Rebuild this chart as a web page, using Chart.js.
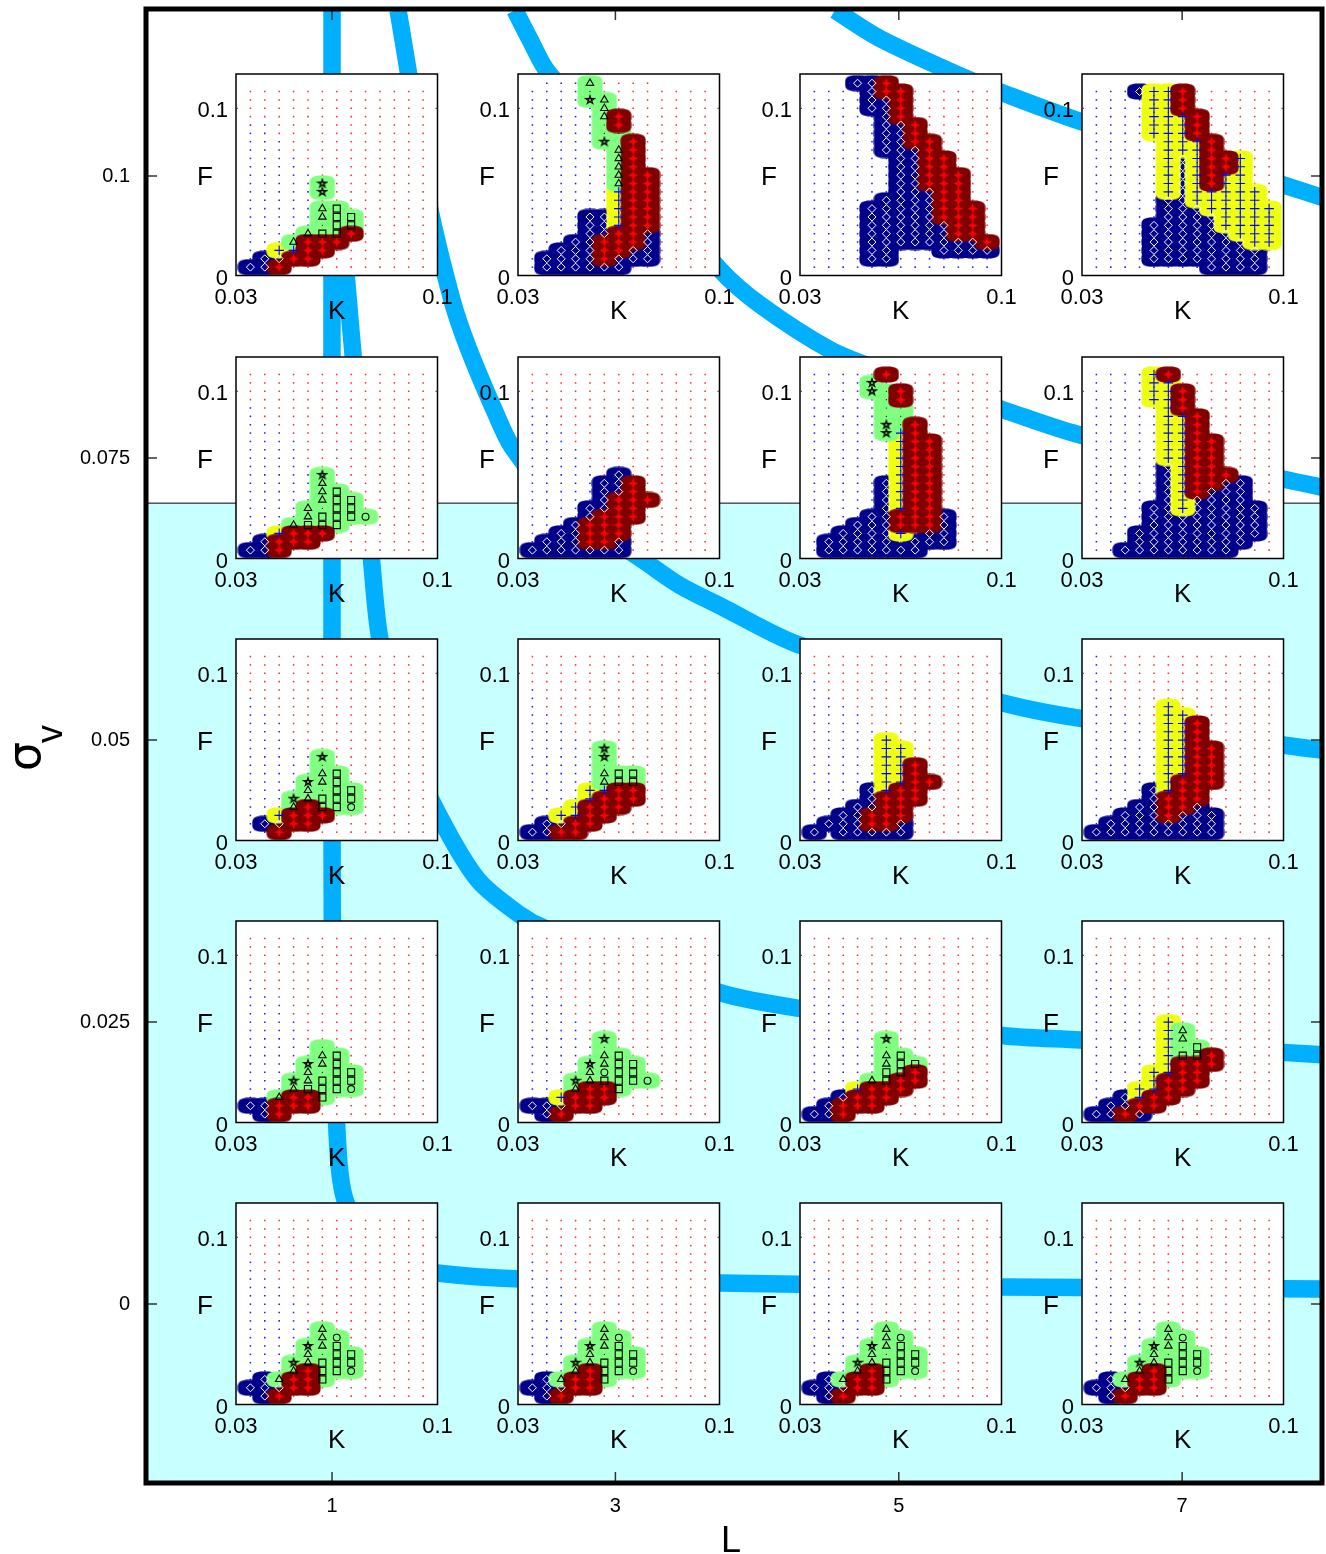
<!DOCTYPE html>
<html>
<head>
<meta charset="utf-8">
<title>Pattern regions over L and sigma v</title>
<script src="https://cdn.jsdelivr.net/npm/chart.js@4/dist/chart.umd.js"></script>
<style>
    html, body { margin: 0; padding: 0; background: #fff; }
    #page { position: relative; width: 1326px; height: 1554px; overflow: hidden; }
    #page canvas { position: absolute; }
</style>
</head>
<body>
<div id="page"><canvas id="outer" width="1326" height="1554" style="left:0;top:0"></canvas></div>
<script>
// ----- DATA -----

// Inset grid
const kValues = [0.035, 0.04, 0.045, 0.05, 0.055, 0.06, 0.065, 0.07, 0.075, 0.08, 0.085, 0.09, 0.095];
const fValues = [0.005, 0.01, 0.015, 0.02, 0.025, 0.03, 0.035, 0.04, 0.045, 0.05, 0.055, 0.06,
    0.065, 0.07, 0.075, 0.08, 0.085, 0.09, 0.095, 0.1, 0.105, 0.11, 0.115];

// Outer axes
const lTicks = [1, 3, 5, 7];
const sigmaTicks = [0, 0.025, 0.05, 0.075, 0.1];
const sigmaTickLabels = ['0', '0.025', '0.05', '0.075', '0.1'];
const cyanBelowSigma = 0.071;

// Thick blue curves
const curve1L = [1, 1, 1.007, 1.042, 1.092, 1.268, 1.48, 1.741, 2.327, 3.738, 5.714, 7.99];
const curve1S = [0.1147, 0.0447, 0.02695, 0.01365, 0.00922, 0.00479, 0.00346, 0.00275, 0.00222, 0.00186, 0.00151, 0.00133];
const curve2L = [1, 1.056, 1.127, 1.282, 1.339, 1.515, 1.755, 2.03, 2.327, 2.503, 3.738, 4.303, 5.728, 6.279, 7.99];
const curve2S = [0.1067, 0.0979, 0.0872, 0.0655, 0.0589, 0.05, 0.0433, 0.0376, 0.0345, 0.0333, 0.0276, 0.0262, 0.0238, 0.0234, 0.0221];
const curve3L = [1.466, 1.536, 1.677, 1.847, 1.96, 2.157, 2.27, 2.609, 3.032, 3.188, 3.456, 3.738, 4.303, 5.728, 6.293, 7.99];
const curve3S = [0.1147, 0.1094, 0.0979, 0.089, 0.0848, 0.0789, 0.076, 0.0708, 0.0673, 0.066, 0.0637, 0.0619, 0.0584, 0.0533, 0.0519, 0.0491];
const curve4L = [2.291, 2.397, 2.524, 3.738, 4.02, 4.514, 4.867, 5.728, 6.293, 7.99];
const curve4S = [0.1147, 0.1121, 0.1092, 0.0917, 0.0886, 0.0846, 0.0828, 0.0793, 0.077, 0.0724];
const curve5L = [4.55, 4.867, 5.432, 5.728, 6.293, 7.719, 7.99];
const curve5S = [0.1147, 0.1122, 0.1089, 0.1074, 0.1048, 0.0992, 0.0981];

// Marks per inset, last line is F = 0.005. Columns follow kValues.
// D diamond, P plus, R red, T triangle, Q square, O circle, A star, k black dot, b/r plain dots
const marks_s100_l1 = [
    '.....A.......', '.....A.......', '.............', '.....TQ......', '.....TQQ.....', '.....kQQ.....',
    '....TQQR.....', '...TRRR......', '..PPRR.......', '.DDRR........', 'DDR..........'
];
const marks_s100_l3 = [
    '.bbbTrrrr....', '....k........', '....AT.......', '.....T.......', '.....TR......', '.....kR......',
    '.....kk......', '.....A.R.....', '......TR.....', '......TR.....', '......TR.....', '......TRR....',
    '......TRR....', '......PRR....', '......PRR....', '......PRR....', '....DDPRR....', '....DDPRR....',
    '....DDRRD....', '...DDRRRD....', '..DDDRRDD....', '.DDDDRDDD....', '.DDDDDD......'
];
const marks_s100_l5 = [
    '...DDR.......', '....DRR......', '....DDR......', '....DDR......', '.....DR......', '.....DDR.....',
    '.....DDR.....', '.....DDRR....', '.....DDDR....', '......DDRR...', '......DDRR...', '......DDRRR..',
    '......DDRRR..', '......DDDRR..', '.....DDDDRR..', '....DDDDDRRR.', '....DDDDDRRR.', '....DDDDDDRR.',
    '....DDDDDDRR.', '....DDDDDDDDR', '....DD...DDDD', '....DD.......', '.............'
];
const marks_s100_l7 = [
    '...DPPR......', '....PPR......', '....PPR......', '....PPPR.....', '....PPPR.....', '....PPPR.....',
    '.....PPPR....', '.....PPPR....', '.....PDPRRP..', '.....PDPRRP..', '.....PDPRPP..', '.....PDPRPP..',
    '.....PDPPPPP.', '.....DDPPPPP.', '.....DDDPPPPP', '.....DDDDPPPP', '....DDDDDPPPP', '....DDDDDDPPP',
    '....DDDDDDDPP', '....DDDDDDDD.', '....DDDDDDDD.', '........DDDD.'
];
const marks_s075_l1 = [
    '.....A.......', '.....T.......', '.....TQ......', '.....TQQ.....', '....TkQQ.....', '....TQQQO....',
    '...TQQQ......', '..PRRR.......', '.DRRR........', 'DDR..........'
];
const marks_s075_l3 = [
    '......D......', '.....DDR.....', '.....DDR.....', '.....DRRR....', '....DDRR.....', '....DRRR.....',
    '...DRRR......', '..DDRRR......', '.DDDRRD......', 'DDDDDDD......'
];
const marks_s075_l5 = [
    '.....R.......', '....A........', '....AkR......', '.....kR......', '.....kk......', '.....kk......',
    '.....AkR.....', '.....APR.....', '......PRR....', '......PRR....', '......PRR....', '......PRR....',
    '......PRR....', '.....DPRR....', '.....DPRR....', '.....DPRR....', '.....DPRR....', '....DDRRRD...',
    '...DDDRRRD...', '..DDDDP.DD...', '.DDDDD.DDD...', '.DDDDDDD.....'
];
const marks_s075_l7 = [
    '....PR.......', '....PP.......', '....PPR......', '....PPR......', '.....PR......', '.....PPR.....',
    '.....PPR.....', '.....PPR.....', '.....PPRR....', '.....PPRR....', '.....PPRR....', '.....DPRR....',
    '.....DPRRR...', '.....DPRRDD..', '.....DPRDDD..', '.....DPDDDD..', '....DDPDDDDD.', '....DDDDDDDD.',
    '....DDDDDDDD.', '...DDDDDDDDD.', '...DDDDDDDD..', '..DDDDDDDD...'
];
const marks_s050_l1 = [
    '.....A.......', '.....k.......', '.....TQ......', '....ATQ......', '....TkQQ.....', '...ATQQQ.....',
    '...TRQQO.....', '..PRRR.......', '.DDRR........', '..R..........'
];
const marks_s050_l3 = [
    '.....A.......', '.....A.......', '.....k.......', '.....TQQ.....', '.....TQQ.....', '....PPRR.....',
    '....PRRR.....', '...PRRR......', '..PPRR.......', '.DDRR........', 'DDRR.........'
];
const marks_s050_l5 = [
    '.....P.......', '.....PP......', '.....PP......', '.....PPR.....', '.....PPR.....', '.....PPRR....',
    '....DPRR.....', '....DRRR.....', '...DDRR......', '..DDRRR......', '.DDDRRD......', 'D.DDDDD......'
];
const marks_s050_l7 = [
    '.....P.......', '.....PP......', '.....PPR.....', '.....PPR.....', '.....PPR.....', '.....PPRR....',
    '.....PPRR....', '.....PPRR....', '.....PPRR....', '.....PRRR....', '....DPRR.....', '....DRRR.....',
    '...DDRRD.....', '..DDDRDDD....', '.DDDDDDDD....', 'DDDDDDDDD....'
];
const marks_s025_l1 = [
    '.....k.......', '.....TQ......', '....ATQ......', '....TkQQ.....', '...ATQQQ.....', '...TQQQO.....',
    '..TRRQ.......', 'DDRRR........', '.DR..........'
];
const marks_s025_l3 = [
    '.....A.......', '.....k.......', '.....TQ......', '....ATQQ.....', '....TOQQ.....', '...ATQQQO....',
    '...TRRQ......', '..PRRR.......', 'DDDRR........', '.DR..........'
];
const marks_s025_l5 = [
    '.....A.......', '.....k.......', '.....TQ......', '.....TQQ.....', '.....QQR.....', '....TQRR.....',
    '...PRRR......', '..DRRR.......', '.DRRR........', 'DDR..........'
];
const marks_s025_l7 = [
    '.....P.......', '.....PT......', '.....PT......', '.....PkQ.....', '.....PQQR....', '.....PRRR....',
    '....PPRR.....', '....PRRR.....', '...PPRR......', '..DPRR.......', '.DDRR........', 'DDRD.........'
];
const marks_s000_l1 = [
    '.....T.......', '.....TO......', '....ATQ......', '....TkQQ.....', '...ATQQQ.....', '...TRQQO.....',
    '.DTRRQ.......', 'DDDRR........', '.DR..........'
];
const marks_s000_l3 = marks_s000_l1.slice();
const marks_s000_l5 = marks_s000_l1.slice();
const marks_s000_l7 = marks_s000_l1.slice();

// Number of blue dots from the left on each F row, from F = 0.11 down to F = 0.005
const blue_s100_l1 = [0,0,0,0,2,2,3,3,4,4,5,5,5,5,5,5,5,5,4,4,3,3];
const blue_s100_l3 = [5,5,5,5,5,5,5,5,5,5,5,5,5,5,5,5,5,5,5,5,5,5];
const blue_s100_l5 = [7,7,7,7,7,7,7,7,7,7,7,7,7,7,7,7,7,7,7,13,13,13];
const blue_s100_l7 = [7,7,7,8,8,8,8,8,8,8,8,8,8,8,8,8,8,8,8,8,8,8];
const blue_s075_l1 = [0,0,0,0,1,1,2,3,4,4,4,5,5,5,5,5,5,5,4,4,3,3];
const blue_s075_l3 = [0,0,0,1,1,2,2,3,3,4,4,5,5,5,5,5,5,5,5,5,7,7];
const blue_s075_l5 = [6,6,6,6,6,6,6,6,6,6,6,6,6,6,6,6,6,6,6,6,6,6];
const blue_s075_l7 = [6,6,6,6,6,6,6,6,6,6,6,6,6,6,6,6,6,6,6,6,6,10];
const blue_s050_l1 = [0,0,0,0,0,1,1,2,3,3,4,4,5,5,5,5,5,5,4,3,3,2];
const blue_s050_l3 = [0,0,0,0,1,1,1,2,3,3,4,4,5,5,5,5,5,5,4,4,3,3];
const blue_s050_l5 = [0,0,0,1,1,2,3,4,4,5,5,5,5,5,5,5,5,5,5,5,5,5];
const blue_s050_l7 = [1,1,1,1,2,2,2,3,4,4,4,5,5,5,5,5,5,5,5,5,5,5];
const blue_s025_l1 = [0,0,0,0,0,1,1,2,3,3,4,4,4,5,5,5,5,5,4,3,3,3];
const blue_s025_l3 = [0,0,0,0,1,1,1,2,3,3,4,4,4,5,5,5,5,5,4,3,3,3];
const blue_s025_l5 = [0,0,0,0,0,0,2,2,3,3,4,4,4,5,5,5,5,5,4,4,3,3];
const blue_s025_l7 = [0,0,0,1,1,2,3,3,4,4,4,5,5,5,5,5,5,5,5,5,5,5];
const blue_s000_l1 = [0,0,0,0,0,1,1,2,3,3,4,4,4,5,5,5,5,5,4,3,3,2];
const blue_s000_l3 = blue_s000_l1.slice();
const blue_s000_l5 = blue_s000_l1.slice();
const blue_s000_l7 = blue_s000_l1.slice();

// Top to bottom, left to right
const panelMarks = [
    [marks_s100_l1, marks_s100_l3, marks_s100_l5, marks_s100_l7],
    [marks_s075_l1, marks_s075_l3, marks_s075_l5, marks_s075_l7],
    [marks_s050_l1, marks_s050_l3, marks_s050_l5, marks_s050_l7],
    [marks_s025_l1, marks_s025_l3, marks_s025_l5, marks_s025_l7],
    [marks_s000_l1, marks_s000_l3, marks_s000_l5, marks_s000_l7]
];
const panelBlue = [
    [blue_s100_l1, blue_s100_l3, blue_s100_l5, blue_s100_l7],
    [blue_s075_l1, blue_s075_l3, blue_s075_l5, blue_s075_l7],
    [blue_s050_l1, blue_s050_l3, blue_s050_l5, blue_s050_l7],
    [blue_s025_l1, blue_s025_l3, blue_s025_l5, blue_s025_l7],
    [blue_s000_l1, blue_s000_l3, blue_s000_l5, blue_s000_l7]
];

// ----- LAYOUT AND STYLES -----

const fontFamily = '"Liberation Sans", Arimo, Helvetica, sans-serif';
Chart.defaults.font.family = fontFamily;
Chart.defaults.color = '#000';
Chart.defaults.animation = false;
Chart.defaults.plugins.legend.display = false;
Chart.defaults.plugins.tooltip.enabled = false;

const panelLeft = [236, 518, 800, 1082];
const panelTop = [74, 357, 639, 921, 1203];
const panelSize = 201.5;
const curveBlue = '#00b0ff';

/**
 * Rounded box used as point style for the coloured regions
 */
function makeBlob(color) {
    const blob = document.createElement('canvas');
    blob.width = 26;
    blob.height = 17;
    const ctx = blob.getContext('2d');
    ctx.fillStyle = color;
    ctx.beginPath();
    for (let i = 0; i < 64; i++) {
        const angle = i / 64 * Math.PI * 2;
        const c = Math.cos(angle);
        const s = Math.sin(angle);
        const x = 13 + 12.6 * Math.sign(c) * Math.pow(Math.abs(c), 2 / 3);
        const y = 8.5 + 8 * Math.sign(s) * Math.pow(Math.abs(s), 2 / 3);
        if (i === 0) ctx.moveTo(x, y); else ctx.lineTo(x, y);
    }
    ctx.closePath();
    ctx.fill();
    return blob;
}

/**
 * Hollow five pointed star, the library only has an eight line one
 */
function makeStar() {
    const star = document.createElement('canvas');
    star.width = 12;
    star.height = 12;
    const ctx = star.getContext('2d');
    ctx.strokeStyle = '#000';
    ctx.lineWidth = 1.1;
    ctx.beginPath();
    for (let i = 0; i < 5; i++) {
        const angle = -Math.PI / 2 + i * 4 * Math.PI / 5;
        const x = 6 + 4.8 * Math.cos(angle);
        const y = 6 + 4.4 * Math.sin(angle);
        if (i === 0) ctx.moveTo(x, y); else ctx.lineTo(x, y);
    }
    ctx.closePath();
    ctx.stroke();
    return star;
}

/**
 * Fat red four pointed mark
 */
function makeRedMark() {
    const mark = document.createElement('canvas');
    mark.width = 11;
    mark.height = 11;
    const ctx = mark.getContext('2d');
    ctx.fillStyle = '#ff0000';
    ctx.beginPath();
    ctx.moveTo(5.5, 0.5);
    ctx.lineTo(6.9, 4.1);
    ctx.lineTo(10.5, 5.5);
    ctx.lineTo(6.9, 6.9);
    ctx.lineTo(5.5, 10.5);
    ctx.lineTo(4.1, 6.9);
    ctx.lineTo(0.5, 5.5);
    ctx.lineTo(4.1, 4.1);
    ctx.closePath();
    ctx.fill();
    return mark;
}

const blobStyles = {
    blue: makeBlob('#00008b'),
    yellow: makeBlob('#eeff10'),
    green: makeBlob('#80ff80'),
    red: makeBlob('#800000')
};

// Which region every mark sits on
const blobOfMark = { D: 'blue', P: 'yellow', R: 'red', T: 'green', Q: 'green', O: 'green', A: 'green', k: 'green' };

// Point options per mark, in drawing order
const markStyles = {
    D: { pointStyle: 'rectRot', pointRadius: 4, pointBorderColor: '#fff', pointBorderWidth: 1, pointBackgroundColor: 'transparent' },
    P: { pointStyle: 'cross', pointRadius: 4.8, pointBorderColor: '#0000ff', pointBorderWidth: 1.1 },
    R: { pointStyle: makeRedMark(), pointRadius: 4, pointBorderWidth: 0 },
    T: { pointStyle: 'triangle', pointRadius: 4.3, pointBorderColor: '#000', pointBorderWidth: 1.1, pointBackgroundColor: 'transparent' },
    Q: { pointStyle: 'rect', pointRadius: 5, pointBorderColor: '#000', pointBorderWidth: 1.1, pointBackgroundColor: 'transparent' },
    O: { pointStyle: 'circle', pointRadius: 3.4, pointBorderColor: '#000', pointBorderWidth: 1.1, pointBackgroundColor: 'transparent' },
    A: { pointStyle: makeStar(), pointRadius: 4, pointBorderWidth: 0 },
    k: { pointStyle: 'circle', pointRadius: 0.6, pointBorderWidth: 0, pointBackgroundColor: '#000' }
};

/**
 * Keeps the plot area where it was set, the library would move it for the tick labels
 */
function fixScaleSize(scale, width, height) {
    if (width !== null) scale.width = width;
    if (height !== null) scale.height = height;
    scale.paddingTop = 0;
    scale.paddingBottom = 0;
    scale.paddingLeft = 0;
    scale.paddingRight = 0;
}

// ----- INSET CHARTS -----

const insetFrame = {
    id: 'insetFrame',
    beforeDraw(chart) {
        const { ctx, chartArea: a } = chart;
        ctx.save();
        ctx.fillStyle = '#fff';
        ctx.fillRect(a.left, a.top, a.width, a.height);
        ctx.restore();
    },
    afterDraw(chart) {
        const { ctx, chartArea: a, scales } = chart;
        const tickY = scales.y.getPixelForValue(0.1);
        ctx.save();
        ctx.strokeStyle = '#000';
        ctx.lineWidth = 1.5;
        ctx.strokeRect(a.left, a.top, a.width, a.height);
        ctx.strokeStyle = '#333';
        ctx.lineWidth = 1;
        ctx.beginPath();
        ctx.moveTo(a.left, tickY);
        ctx.lineTo(a.left + 2, tickY);
        ctx.moveTo(a.right - 2, tickY);
        ctx.lineTo(a.right, tickY);
        ctx.stroke();
        ctx.fillStyle = '#000';
        ctx.font = '26px ' + fontFamily;
        ctx.textAlign = 'center';
        ctx.textBaseline = 'middle';
        ctx.fillText('F', a.left - 31, (a.top + a.bottom) / 2 + 3);
        ctx.fillText('K', (a.left + a.right) / 2, a.bottom + 36);
        ctx.restore();
    }
};

/**
 * Turns the rows of one inset into scatter datasets
 */
function buildInsetDatasets(marks, blue) {
    const blueDots = [];
    const redDots = [];
    const blobs = { blue: [], yellow: [], green: [], red: [] };
    const symbols = { D: [], P: [], R: [], T: [], Q: [], O: [], A: [], k: [] };

    for (let f = fValues.length - 1; f >= 0; f--) {
        const row = marks[marks.length - 1 - f] || '.............';
        kValues.forEach((k, c) => {
            const ch = row[c];
            const point = { x: k, y: fValues[f] };
            if (ch === 'b') {
                blueDots.push(point);
            } else if (ch === 'r') {
                redDots.push(point);
            } else if (ch === '.') {
                // the default dots stop at F = 0.11
                if (f < blue.length) {
                    (c < blue[blue.length - 1 - f] ? blueDots : redDots).push(point);
                }
            } else {
                blobs[blobOfMark[ch]].push(point);
                symbols[ch].push(point);
            }
        });
    }

    const datasets = [
        { data: blueDots, pointStyle: 'rect', pointRadius: 1.1, pointBorderWidth: 0, pointBackgroundColor: '#2020ff' },
        { data: redDots, pointStyle: 'rect', pointRadius: 1.1, pointBorderWidth: 0, pointBackgroundColor: '#ff3030' }
    ];
    ['blue', 'yellow', 'green', 'red'].forEach(name => {
        datasets.push({ data: blobs[name], pointStyle: blobStyles[name], pointRadius: 5, pointBorderWidth: 0 });
    });
    Object.keys(markStyles).forEach(ch => {
        datasets.push(Object.assign({ data: symbols[ch] }, markStyles[ch]));
    });
    // the library draws the lowest order last, so the list order gives the stacking
    datasets.forEach((d, i) => {
        d.order = datasets.length - i;
        d.clip = false;
        d.pointHoverRadius = d.pointRadius;
    });
    return datasets;
}

function createInset(rowIndex, colIndex) {
    const canvas = document.createElement('canvas');
    canvas.width = 280;
    canvas.height = 272;
    canvas.style.left = (panelLeft[colIndex] - 50) + 'px';
    canvas.style.top = (panelTop[rowIndex] - 10) + 'px';
    document.getElementById('page').appendChild(canvas);

    return new Chart(canvas, {
        type: 'scatter',
        data: { datasets: buildInsetDatasets(panelMarks[rowIndex][colIndex], panelBlue[rowIndex][colIndex]) },
        plugins: [insetFrame],
        options: {
            responsive: false,
            layout: { padding: { left: 0, right: canvas.width - 50 - panelSize, top: 10, bottom: 0 } },
            scales: {
                x: {
                    type: 'linear', min: 0.03, max: 0.1,
                    grid: { display: false, drawTicks: false }, border: { display: false },
                    afterFit(scale) { fixScaleSize(scale, null, 60.5); },
                    afterBuildTicks(scale) { scale.ticks = [{ value: 0.03 }, { value: 0.1 }]; },
                    ticks: { font: { size: 22 }, padding: 9, maxRotation: 0, autoSkip: false, color: '#000', callback: v => String(v) }
                },
                y: {
                    type: 'linear', min: 0, max: 0.1205,
                    grid: { display: false, drawTicks: false }, border: { display: false },
                    afterFit(scale) { fixScaleSize(scale, 50, null); },
                    afterBuildTicks(scale) { scale.ticks = [{ value: 0 }, { value: 0.1 }]; },
                    ticks: { font: { size: 22 }, padding: 8, labelOffset: 3, autoSkip: false, color: '#000', callback: v => String(v) }
                }
            }
        }
    });
}

// ----- OUTER CHART -----

const outerFrame = {
    id: 'outerFrame',
    afterDatasetsDraw(chart) {
        const { ctx, chartArea: a, scales } = chart;
        ctx.save();
        ctx.strokeStyle = '#333';
        ctx.lineWidth = 1.5;
        ctx.beginPath();
        lTicks.forEach(v => {
            const x = scales.x.getPixelForValue(v);
            ctx.moveTo(x, a.top);
            ctx.lineTo(x, a.top + 11);
            ctx.moveTo(x, a.bottom);
            ctx.lineTo(x, a.bottom - 11);
        });
        sigmaTicks.forEach(v => {
            const y = scales.y.getPixelForValue(v);
            ctx.moveTo(a.left, y);
            ctx.lineTo(a.left + 11, y);
            ctx.moveTo(a.right, y);
            ctx.lineTo(a.right - 11, y);
        });
        ctx.stroke();
        ctx.strokeStyle = '#000';
        ctx.lineWidth = 5;
        ctx.strokeRect(a.left, a.top, a.width, a.height);
        ctx.restore();
    },
    afterDraw(chart) {
        const { ctx } = chart;
        ctx.save();
        ctx.fillStyle = '#000';
        ctx.textBaseline = 'alphabetic';
        // sigma with subscript, rotated
        ctx.translate(40, 771);
        ctx.rotate(-Math.PI / 2);
        ctx.font = '46px "DejaVu Sans", sans-serif';
        ctx.fillText('σ', 0, 0);
        ctx.font = '36px ' + fontFamily;
        ctx.fillText('v', 28, 22);
        ctx.restore();
        ctx.save();
        ctx.fillStyle = '#000';
        ctx.font = '36px ' + fontFamily;
        ctx.textAlign = 'center';
        ctx.textBaseline = 'alphabetic';
        ctx.fillText('L', 731, 1552);
        ctx.restore();
    }
};

function curveDataset(lValues, sValues) {
    return {
        type: 'line',
        data: lValues.map((l, i) => ({ x: l, y: sValues[i] })),
        borderColor: curveBlue,
        borderWidth: 17.5,
        pointRadius: 0,
        tension: 0.3,
        borderJoinStyle: 'round',
        clip: 0,
        fill: false,
        order: 1
    };
}

new Chart(document.getElementById('outer'), {
    type: 'scatter',
    data: {
        datasets: [
            {
                type: 'line',
                data: [{ x: -0.313, y: cyanBelowSigma }, { x: 7.987, y: cyanBelowSigma }],
                borderColor: '#000',
                borderWidth: 1,
                pointRadius: 0,
                backgroundColor: '#c8ffff',
                fill: 'start',
                order: 2
            },
            curveDataset(curve1L, curve1S),
            curveDataset(curve2L, curve2S),
            curveDataset(curve3L, curve3S),
            curveDataset(curve4L, curve4S),
            curveDataset(curve5L, curve5S)
        ]
    },
    plugins: [outerFrame],
    options: {
        responsive: false,
        layout: { padding: { left: 0, right: 4, top: 9, bottom: 0 } },
        scales: {
            x: {
                type: 'linear', min: -0.313, max: 7.987,
                grid: { display: false, drawTicks: false }, border: { display: false },
                afterFit(scale) { fixScaleSize(scale, null, 71); },
                afterBuildTicks(scale) { scale.ticks = lTicks.map(v => ({ value: v })); },
                ticks: { font: { size: 20 }, padding: 11, maxRotation: 0, autoSkip: false, color: '#000', callback: v => String(v) }
            },
            y: {
                type: 'linear', min: -0.01587, max: 0.11481,
                grid: { display: false, drawTicks: false }, border: { display: false },
                afterFit(scale) { fixScaleSize(scale, 146, null); },
                afterBuildTicks(scale) { scale.ticks = sigmaTicks.map(v => ({ value: v })); },
                ticks: {
                    font: { size: 20 }, padding: 16, autoSkip: false, color: '#000',
                    callback: v => sigmaTickLabels[sigmaTicks.indexOf(v)]
                }
            }
        }
    }
});

// ----- INITIALISE INSETS -----

panelTop.forEach((top, rowIndex) => {
    panelLeft.forEach((left, colIndex) => {
        createInset(rowIndex, colIndex);
    });
});
</script>
</body>
</html>
